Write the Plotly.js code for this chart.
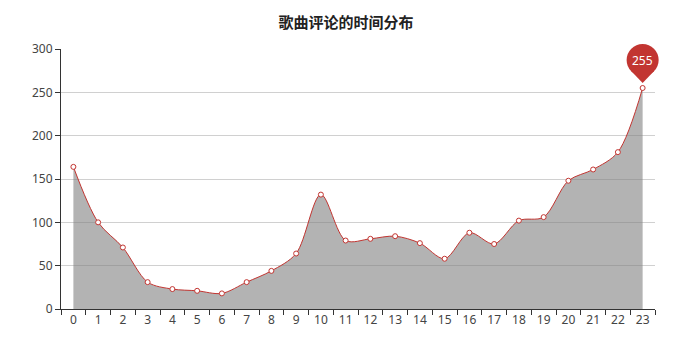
<!DOCTYPE html>
<html>
<head>
<meta charset="utf-8">
<script src="https://cdn.plot.ly/plotly-3.0.1.min.js"></script>
<style>html,body{margin:0;padding:0;background:#fff;}#chart{width:692px;height:350px;}</style>
</head>
<body>
<div id="chart"></div>
<script>
var hours = ['0','1','2','3','4','5','6','7','8','9','10','11','12','13','14','15','16','17','18','19','20','21','22','23'];
var counts = [164,100,71,31,23,21,18,31,44,64,132,79,81,84,76,58,88,75,102,106,148,161,181,255];
var yTicks = [0,50,100,150,200,250,300];
var chartTitle = '歌曲评论的时间分布';

var yMax = 300;
var maxVal = Math.max.apply(null, counts);
var maxIdx = counts.indexOf(maxVal);
var red = '#c23531';
// paper-fraction anchor of the max point (from category index and value)
var pinX = (maxIdx + 0.5) / hours.length;
var pinY = maxVal / yMax;

var trace = {
  x: hours,
  y: counts,
  type: 'scatter',
  mode: 'lines+markers',
  line: {color: red, width: 1, shape: 'spline', smoothing: 0.9},
  marker: {symbol: 'circle', size: 5, color: '#ffffff', line: {color: red, width: 1}},
  fill: 'tozeroy',
  fillcolor: 'rgba(128,128,128,0.6)',
  hoverinfo: 'x+y'
};

var layout = {
  width: 692, height: 350,
  margin: {l: 61, r: 37, t: 49, b: 41},
  paper_bgcolor: '#fff', plot_bgcolor: '#fff',
  showlegend: false,
  title: {text: chartTitle, x: 0.5, xanchor: 'center', y: 0.935, yanchor: 'middle',
    font: {family: '"Noto Sans CJK SC", sans-serif', size: 15, color: '#222', weight: 'bold'}},
  font: {family: '"Noto Sans", "DejaVu Sans", sans-serif', size: 12, color: '#444'},
  xaxis: {
    type: 'category', categoryorder: 'array', categoryarray: hours,
    range: [-0.5, hours.length - 0.5],
    tickson: 'boundaries',
    ticks: 'outside', ticklen: 5, tickcolor: '#333', tickwidth: 1,
    showline: true, linecolor: '#333', linewidth: 1,
    showgrid: false, zeroline: false,
    tickfont: {size: 12, color: '#444'},
    fixedrange: true
  },
  yaxis: {
    range: [0, yMax], tickvals: yTicks, ticktext: yTicks.map(String),
    ticks: 'outside', ticklen: 5, tickcolor: '#333', tickwidth: 1,
    showline: true, linecolor: '#333', linewidth: 1,
    showgrid: true, gridcolor: '#d0d0d0', gridwidth: 1,
    zeroline: false,
    tickfont: {size: 12, color: '#444'},
    fixedrange: true
  },
  shapes: [
    {type: 'circle', xref: 'paper', yref: 'paper', xsizemode: 'pixel', ysizemode: 'pixel',
     xanchor: pinX, yanchor: pinY,
     x0: -16, x1: 16, y0: 12, y1: 44,
     fillcolor: red, line: {width: 0}},
    {type: 'path', xref: 'paper', yref: 'paper', xsizemode: 'pixel', ysizemode: 'pixel',
     xanchor: pinX, yanchor: pinY,
     path: 'M -11.5 16.9 L 0 5 L 11.5 16.9 L 0 28 Z',
     fillcolor: red, line: {width: 0}}
  ],
  annotations: [
    {x: hours[maxIdx], y: maxVal, xref: 'x', yref: 'y', text: String(maxVal), showarrow: false,
     yshift: 28, font: {size: 12, color: '#fff'}}
  ]
};

Plotly.newPlot('chart', [trace], layout, {displayModeBar: false, staticPlot: true});
</script>
</body>
</html>
